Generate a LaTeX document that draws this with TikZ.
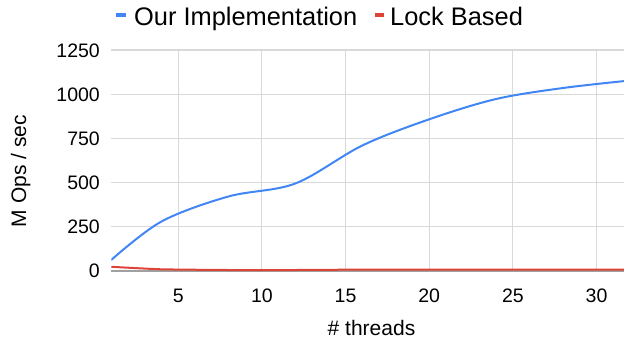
\documentclass[tikz,border=0pt]{standalone}
\usepackage{fontspec}
\setmainfont{Liberation Sans}
\definecolor{gblue}{HTML}{4285F4}
\definecolor{gred}{HTML}{DB4437}
\definecolor{gridc}{HTML}{D9D9D9}
\definecolor{axisc}{HTML}{A0A0A0}
\begin{document}
\begin{tikzpicture}[x=1pt,y=-1pt,
  gridline/.style={draw=gridc,line width=1.1pt},
  zeroline/.style={draw=axisc,line width=1.6pt},
  series/.style={line width=2pt,line cap=round,line join=round},
  ticklab/.style={inner sep=0pt,font=\fontsize{19.5}{22}\selectfont},
  axtitle/.style={inner sep=0pt,font=\fontsize{21}{24}\selectfont},
  legtext/.style={inner sep=0pt,anchor=base west,font=\fontsize{25.4}{30}\selectfont},
  legmark/.style={line width=3.3pt}]
\useasboundingbox (0,0) rectangle (624,338);
% grid
\foreach \y in {50,94.1,138.3,182.4,226.6}
  \draw[gridline] (111.3,\y) -- (624,\y);
\foreach \x in {178.2,261.9,345.5,429.2,512.9,596.5}
  \draw[gridline] (\x,50) -- (\x,270.7);
\draw[zeroline] (111.3,270.7) -- (624,270.7);
% series
\begin{scope}
\clip (111.3,40) rectangle (624,280);
\draw[series,gred] plot[smooth,tension=0.3] coordinates {
 (111.3,266.8) (161.5,269.3) (228.4,270.0) (295.3,270.0) (362.3,269.6)
 (429.2,269.5) (496.1,269.5) (563.0,269.5) (629.9,269.5)};
\draw[series,gblue] plot[smooth,tension=0.55] coordinates {
 (111.3,259.9) (161.5,221.5) (228.4,196.5) (295.3,183.5) (362.3,145.5)
 (429.2,119.3) (496.1,99) (563.0,88) (629.9,80.5)};
\end{scope}
% y tick labels
\node[ticklab,anchor=base east] (y0) at (100,277.7) {0};
\node[ticklab,anchor=base east] (y250) at (100,233.6) {250};
\node[ticklab,anchor=base east] (y500) at (100,189.4) {500};
\node[ticklab,anchor=base east] (y750) at (100,145.3) {750};
\node[ticklab,anchor=base east] (y1000) at (100,101.1) {1000};
\node[ticklab,anchor=base east] (y1250) at (100,57) {1250};
% x tick labels
\node[ticklab,anchor=base] (x5) at (178.2,302) {5};
\node[ticklab,anchor=base] (x10) at (261.9,302) {10};
\node[ticklab,anchor=base] (x15) at (345.5,302) {15};
\node[ticklab,anchor=base] (x20) at (429.2,302) {20};
\node[ticklab,anchor=base] (x25) at (512.9,302) {25};
\node[ticklab,anchor=base] (x30) at (596.5,302) {30};
% axis titles
\node[axtitle,anchor=base] (xt) at (371.5,335) {\# threads};
\node[axtitle,anchor=base,rotate=90] (yt) at (26,171) {M Ops / sec};
% legend
\coordinate (lb1) at (116,15); \coordinate (lb2) at (125.5,15);
\draw[legmark,gblue] (lb1) -- (lb2);
\node[legtext] (l1) at (134,25) {Our Implementation};
\coordinate (lr1) at (374.5,15); \coordinate (lr2) at (384,15);
\draw[legmark,gred] (lr1) -- (lr2);
\node[legtext] (l2) at (390,25) {Lock Based};
\end{tikzpicture}
\end{document}
